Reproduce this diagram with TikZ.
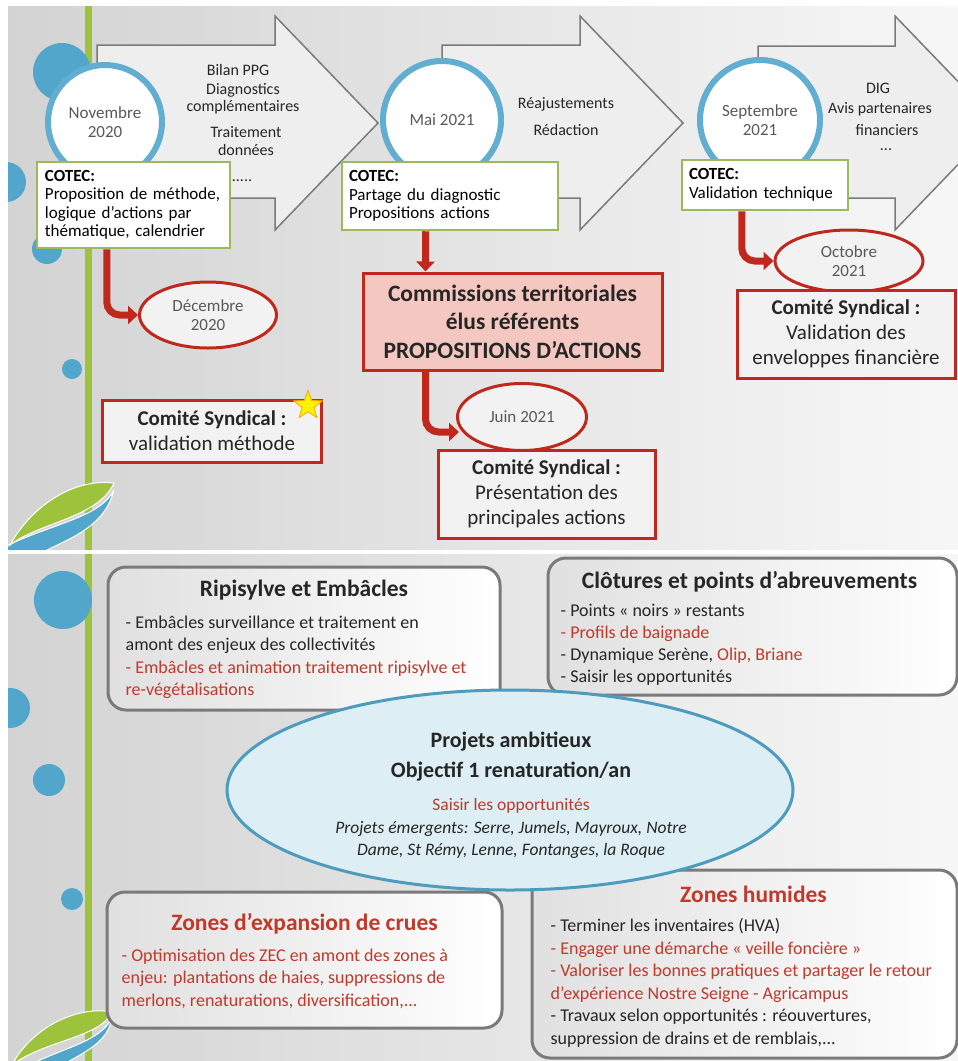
\documentclass[tikz,border=0pt]{standalone}
\usepackage{fontspec}
\setmainfont{Carlito}
\usetikzlibrary{arrows.meta,shapes.geometric}

\definecolor{panelgray}{HTML}{D3D3D3}
\definecolor{panelwhite}{HTML}{F7F7F7}
\definecolor{stemgreen}{HTML}{9DC33C}
\definecolor{dotblue}{HTML}{52A5CB}
\definecolor{ringblue}{HTML}{62AED0}
\definecolor{cotecgreen}{HTML}{9BBB59}
\definecolor{darkred}{HTML}{C0281E}
\definecolor{textred}{HTML}{C0392B}
\definecolor{pinkfill}{HTML}{F4C7C0}
\definecolor{arrowgray}{HTML}{EEEEEE}
\definecolor{framegray}{HTML}{7A7A7A}
\definecolor{textgray}{HTML}{595959}
\definecolor{textdark}{HTML}{262626}
\definecolor{ovalfill}{HTML}{F2F2F2}
\definecolor{ovalblue}{HTML}{DDEEF4}
\definecolor{ovalline}{HTML}{4D9CBE}
\definecolor{boxgray}{HTML}{E0E0E0}
\definecolor{stargold}{HTML}{FFF200}

\tikzset{
  bigarrow/.style={fill=arrowgray, draw=framegray, line width=1.5pt, line join=miter},
  datering/.style={circle, draw=ringblue, line width=6pt, fill=white, inner sep=0pt,
    align=center, text=textgray, font=\fontsize{17}{19}\selectfont},
  steptext/.style={align=center, text=textdark, inner sep=0pt, font=\fontsize{16}{17.5}\selectfont},
  cotecbox/.style={draw=cotecgreen, line width=2.5pt, fill=white, inner sep=0pt,
    align=left, text=black, font=\fontsize{17}{18.5}\selectfont},
  dateoval/.style={ellipse, draw=darkred, line width=3pt, fill=ovalfill, inner sep=0pt,
    align=center, text=textgray, font=\fontsize{17}{19}\selectfont},
  comitebox/.style={draw=darkred, line width=3pt, fill=ovalfill, inner sep=0pt,
    align=center, text=textdark, font=\fontsize{21}{25}\selectfont},
  commibox/.style={draw=darkred, line width=3pt, fill=pinkfill, inner sep=0pt,
    align=center, text=textdark, font=\bfseries\fontsize{23.5}{28.5}\selectfont},
  redarrow/.style={draw=darkred, line width=7pt, rounded corners=13pt,
    -{Triangle[length=10pt,width=18pt]}},
  goldstar/.style={star, star points=5, star point ratio=2.4, fill=stargold,
    draw=orange!70!yellow, line width=0.8pt, minimum size=30pt, inner sep=0pt},
  themebox/.style={draw=framegray, line width=3pt, rounded corners=18pt,
    left color=boxgray, right color=white},
  themetitle/.style={inner sep=0pt, text=textdark, font=\bfseries\fontsize{23.5}{28}\selectfont},
  themetext/.style={anchor=north west, align=left, inner sep=0pt, text=textdark,
    font=\fontsize{18}{22.5}\selectfont},
  bigoval/.style={ellipse, draw=ovalline, line width=3pt, fill=ovalblue, inner sep=0pt,
    minimum width=566pt, minimum height=200pt}
}

\begin{document}
\begin{tikzpicture}[x=1pt,y=-1pt]
\useasboundingbox (0,0) rectangle (958,1061);
\clip (0,0) rectangle (958,1061);

% panels
\fill[left color=panelgray,right color=panelwhite] (8,6) rectangle (958,550);
\fill[left color=panelgray,right color=panelwhite] (8,554) rectangle (958,1061);

% top decoration
\begin{scope}
\clip (8,6) rectangle (958,550);
\fill[stemgreen] (85,6) rectangle (92,550);
\foreach \cx/\cy/\r in {62/72/29, 6/182/20, 47/249/15, 72/369/10}
  \fill[dotblue] (\cx,\cy) circle[radius=\r pt];
\fill[dotblue, draw=white, line width=1pt] (114,490) .. controls (100,518) and (50,524) .. (2,548)
  -- (2,556) -- (35,556) .. controls (70,538) and (104,528) .. (114,490);
\fill[stemgreen, draw=white, line width=1pt] (114,483) .. controls (75,478) and (32,505) .. (10,545)
  .. controls (40,522) and (98,518) .. cycle;
\end{scope}

% bottom decoration
\begin{scope}
\clip (8,554) rectangle (958,1061);
\fill[stemgreen] (85,554) rectangle (92,1061);
\foreach \cx/\cy/\r in {63/600/29, 10/708/20, 49/780/16, 72/899/11}
  \fill[dotblue] (\cx,\cy) circle[radius=\r pt];
\fill[dotblue, draw=white, line width=1pt] (112,1018) .. controls (100,1042) and (62,1048) .. (30,1065)
  -- (62,1065) .. controls (90,1050) and (108,1040) .. (112,1018);
\fill[stemgreen, draw=white, line width=1pt] (112,1012) .. controls (75,1005) and (30,1030) .. (12,1065)
  .. controls (45,1040) and (100,1038) .. cycle;
\end{scope}

% big grey arrows
\draw[bigarrow] (97,45) -- (275,45) -- (275,16) -- (378,123) -- (275,230) -- (275,198) -- (97,198) -- cycle;
\draw[bigarrow] (442,45) -- (580,45) -- (580,16) -- (683,123) -- (580,230) -- (580,198) -- (442,198) -- cycle;
\draw[bigarrow] (758,46) -- (895,46) -- (895,16) -- (998,123) -- (895,230) -- (895,198) -- (758,198) -- cycle;

\node[steptext] (bilan) at (238,70) {Bilan PPG};
\node[steptext] (diag) at (243,99) {Diagnostics\\complémentaires};
\node[steptext] (trait) at (246,141) {Traitement\\données};
\node[steptext] (etcA) at (242,181) {.....};
\node[steptext] (reaj) at (566,104) {Réajustements};
\node[steptext] (redac) at (566,130) {Rédaction};
\node[steptext] (dig) at (878,88) {DIG};
\node[steptext] (avis) at (880,109) {Avis partenaires};
\node[steptext] (fin) at (887,130) {financiers};
\node[steptext] (etcC) at (886,150) {...};

% dates
\node[datering, minimum size=114pt] (nov) at (105,122) {Novembre\\2020};
\node[datering, minimum size=118pt] (mai) at (442,120) {Mai 2021};
\node[datering, minimum size=120pt] (sept) at (760,120) {Septembre\\2021};

% COTEC
\node[cotecbox, minimum width=193pt, minimum height=86pt, text width=177pt] (cotecA) at (133.5,205)
  {\textbf{COTEC:}\\Proposition de méthode,\\logique d’actions par\\thématique, calendrier};
\node[cotecbox, minimum width=216pt, minimum height=68pt, text width=202pt] (cotecB) at (450,196)
  {\textbf{COTEC:}\\Partage du diagnostic\\Propositions actions};
\node[cotecbox, minimum width=166pt, minimum height=50pt, text width=152pt] (cotecC) at (765,185)
  {\textbf{COTEC:}\\Validation technique};

% left column
\node[dateoval, minimum width=137pt, minimum height=66pt] (dec) at (208,315) {Décembre\\2020};
\draw[redarrow] ([xshift=71pt]cotecA.south west) |- (dec.west);
\node[comitebox, minimum width=219pt, minimum height=62pt] (comA) at (212,431)
  {\textbf{Comité Syndical :}\\validation méthode};
\node[goldstar] (star) at ([xshift=-15pt,yshift=-7pt]comA.north east) {};

% middle column
\node[commibox, minimum width=299pt, minimum height=97pt] (commi) at (512.5,321.5)
  {Commissions territoriales\\élus référents\\PROPOSITIONS D’ACTIONS};
\draw[redarrow] ([xshift=85pt]cotecB.south west) -- ([xshift=64pt]commi.north west);
\node[dateoval, minimum width=129pt, minimum height=67pt] (juin) at (522,417) {Juin 2021};
\draw[redarrow] ([xshift=64pt]commi.south west) |- ([xshift=3pt,yshift=-15pt]juin.west);
\node[comitebox, minimum width=217pt, minimum height=88pt] (comB) at (546.5,494)
  {\textbf{Comité Syndical :}\\Présentation des\\principales actions};

% right column
\node[dateoval, minimum width=148pt, minimum height=62pt] (oct) at (849,261) {Octobre\\2021};
\draw[redarrow] ([xshift=61pt]cotecC.south west) |- (oct.west);
\node[comitebox, minimum width=218pt, minimum height=88pt] (comC) at (846,334)
  {\textbf{Comité Syndical :}\\Validation des\\enveloppes financière};

% themes
\node[themebox, minimum width=392pt, minimum height=143pt] (ripi) at (304,638.5) {};
\node[themetitle] (ripiT) at ([yshift=-25pt]ripi.north) {Ripisylve et Embâcles};
\node[themetext] (ripiL) at ([xshift=19pt,yshift=-50pt]ripi.north west)
  {- Embâcles surveillance et traitement en\\amont des enjeux des collectivités\\
   \textcolor{textred}{- Embâcles et animation traitement ripisylve et}\\
   \textcolor{textred}{re-végétalisations}};

\node[themebox, minimum width=409pt, minimum height=137pt] (clot) at (752.5,626.5) {};
\node[themetitle] (clotT) at ([xshift=-3pt,yshift=-25pt]clot.north) {Clôtures et points d’abreuvements};
\node[themetext, font=\fontsize{18}{22}\selectfont] (clotL) at ([xshift=14pt,yshift=-47pt]clot.north west)
  {- Points « noirs » restants\\\textcolor{textred}{- Profils de baignade}\\
   - Dynamique Serène, \textcolor{textred}{Olip, Briane}\\- Saisir les opportunités};

\node[themebox, minimum width=395pt, minimum height=136pt] (zec) at (304.5,960) {};
\node[themetitle, text=textred] (zecT) at ([yshift=-33pt]zec.north) {Zones d’expansion de crues};
\node[themetext, text=textred] (zecL) at ([xshift=16pt,yshift=-58pt]zec.north west)
  {- Optimisation des ZEC en amont des zones à\\enjeu: plantations de haies, suppressions de\\
   merlons, renaturations, diversification,...};

\node[themebox, minimum width=425pt, minimum height=188pt] (zh) at (744.5,964) {};
\node[themetitle, text=textred] (zhT) at ([xshift=9pt,yshift=-26pt]zh.north) {Zones humides};
\node[themetext] (zhL) at ([xshift=20pt,yshift=-50pt]zh.north west)
  {- Terminer les inventaires (HVA)\\
   \textcolor{textred}{- Engager une démarche « veille foncière »}\\
   \textcolor{textred}{- Valoriser les bonnes pratiques et partager le retour}\\
   \textcolor{textred}{d’expérience Nostre Seigne - Agricampus}\\
   - Travaux selon opportunités : réouvertures,\\suppression de drains et de remblais,...};

% centre
\node[bigoval] (proj) at (510,790) {};
\node[align=center, inner sep=0pt, text=textdark, font=\bfseries\fontsize{22}{30}\selectfont] (projT) at (511,757)
  {Projets ambitieux\\Objectif 1 renaturation/an};
\node[inner sep=0pt, text=textred, font=\fontsize{17.5}{22}\selectfont] (saisir) at (511,806) {Saisir les opportunités};
\node[align=center, inner sep=0pt, text=textdark, font=\itshape\fontsize{17.5}{22}\selectfont] (emerg) at (511,840)
  {Projets émergents: Serre, Jumels, Mayroux, Notre\\Dame, St Rémy, Lenne, Fontanges, la Roque};

% separation
\fill[white] (0,550) rectangle (958,554);
\end{tikzpicture}
\end{document}
